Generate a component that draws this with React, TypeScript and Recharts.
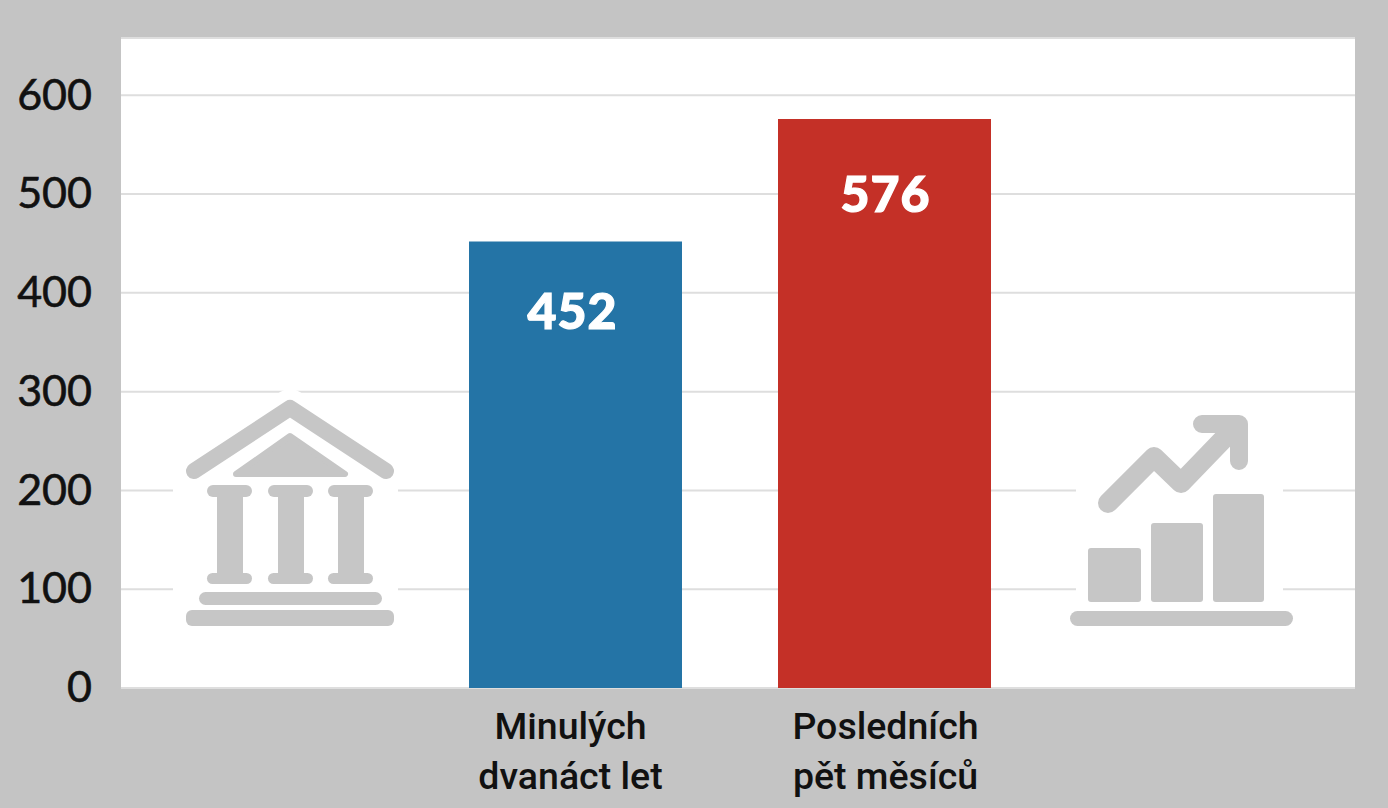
import { BarChart, Bar, XAxis, YAxis, CartesianGrid, Cell, LabelList, Customized } from 'recharts'

const categories = ['', 'Minulých\ndvanáct let', 'Posledních\npět měsíců', ' ']
const values = [null, 452, 576, null]
const barColors = ['#ffffff', '#2474a6', '#c43027', '#ffffff']
const yTicks = [0, 100, 200, 300, 400, 500, 600]

const data = categories.map((name, i) => ({ name, value: values[i] }))

const ICON = '#c6c6c6'

function BankShapes() {
  return (
    <>
      <polyline points="194,471 290,408 386,471" fill="none" strokeWidth={16} strokeLinecap="round" strokeLinejoin="round" />
      <path d="M290 436 L345 474 L236 474 Z" strokeWidth={6} strokeLinejoin="round" />
      {[207, 268, 328].map((x) => (
        <g key={x}>
          <rect x={x} y={485} width={45} height={12} rx={6} />
          <rect x={x + 10} y={495} width={26} height={80} />
          <rect x={x} y={573} width={45} height={11} rx={5.5} />
        </g>
      ))}
      <rect x={199} y={592} width={183} height={13} rx={6.5} />
      <rect x={186} y={610} width={208} height={16} rx={6} />
    </>
  )
}

function GrowthShapes() {
  return (
    <>
      <polyline points="1108,503 1154,457 1181,483 1236,426" fill="none" strokeWidth={20} strokeLinecap="round" strokeLinejoin="round" />
      <polyline points="1202,424 1239,424 1239,461" fill="none" strokeWidth={18} strokeLinecap="round" strokeLinejoin="round" />
      <rect x={1088} y={548} width={53} height={54} rx={3} />
      <rect x={1151} y={523} width={52} height={79} rx={3} />
      <rect x={1213} y={494} width={51} height={108} rx={3} />
      <rect x={1070} y={611} width={223} height={15} rx={7.5} />
    </>
  )
}

function Icons() {
  return (
    <g>
      <rect x={173} y={478} width={225} height={155} fill="#fff" />
      <rect x={1076} y={478} width={207} height={155} fill="#fff" />
      <g fill="#fff" stroke="#fff" strokeWidth={0}>
        <polyline points="193,471 290,407 387,471" fill="none" strokeWidth={36} strokeLinecap="round" strokeLinejoin="round" />
        <polyline points="1108,503 1154,457 1181,483 1236,426" fill="none" strokeWidth={36} strokeLinecap="round" strokeLinejoin="round" />
      </g>
      <g fill={ICON} stroke={ICON} strokeWidth={0}>
        <BankShapes />
        <GrowthShapes />
      </g>
    </g>
  )
}

function CategoryTick({ x, y, payload, index }: any) {
  const lines = String(payload.value).split('\n')
  const cx = index === 1 ? x - 5 : x + 1
  return (
    <text x={cx} y={y} textAnchor="middle" fontFamily="Roboto" fontSize={37.5} fontWeight={500} fill="#111">
      {lines.map((line, i) => (
        <tspan key={i} x={cx} y={y + 43 + i * 50}>
          {line.trim()}
        </tspan>
      ))}
    </text>
  )
}

// the two numbers do not sit at the same spot in their bars
function ValueLabel({ x, y, width, value }: any) {
  if (value == null) return null
  const second = value === values[2]
  const dx = second ? 1 : -3
  const dy = second ? 93 : 88
  return (
    <text
      x={x + width / 2 + dx}
      y={y + dy}
      textAnchor="middle"
      fontFamily="Lato"
      fontSize={50}
      fontWeight={900}
      fill="#fff"
      stroke="#fff"
      strokeWidth={1.2}
      letterSpacing={1}
    >
      {value}
    </text>
  )
}

export default function App() {
  return (
    <div style={{ position: 'absolute', left: 0, top: 0, width: 1388, height: 808, background: '#c4c4c4' }}>
      <BarChart width={1388} height={808} data={data} margin={{ top: 38, right: 33, bottom: 0, left: 0 }} barSize={213}>
        <CartesianGrid horizontal vertical={false} stroke="#dedede" strokeWidth={2} fill="#ffffff" fillOpacity={1} />
        <XAxis
          dataKey="name"
          height={120}
          interval={0}
          axisLine={false}
          tickLine={false}
          padding={{ left: -9, right: 7 }}
          tick={<CategoryTick />}
        />
        <YAxis
          width={121}
          domain={[0, 658]}
          ticks={yTicks}
          axisLine={false}
          tickLine={false}
          tickMargin={23}
          tick={{ fontFamily: 'Lato', fontSize: 43, fill: '#111', stroke: '#111', strokeWidth: 0.6, dy: -1 }}
        />
        <Customized component={Icons} />
        <Bar dataKey="value" isAnimationActive={false}>
          {data.map((d, i) => (
            <Cell key={i} fill={barColors[i]} />
          ))}
          <LabelList dataKey="value" content={<ValueLabel />} />
        </Bar>
      </BarChart>
    </div>
  )
}
